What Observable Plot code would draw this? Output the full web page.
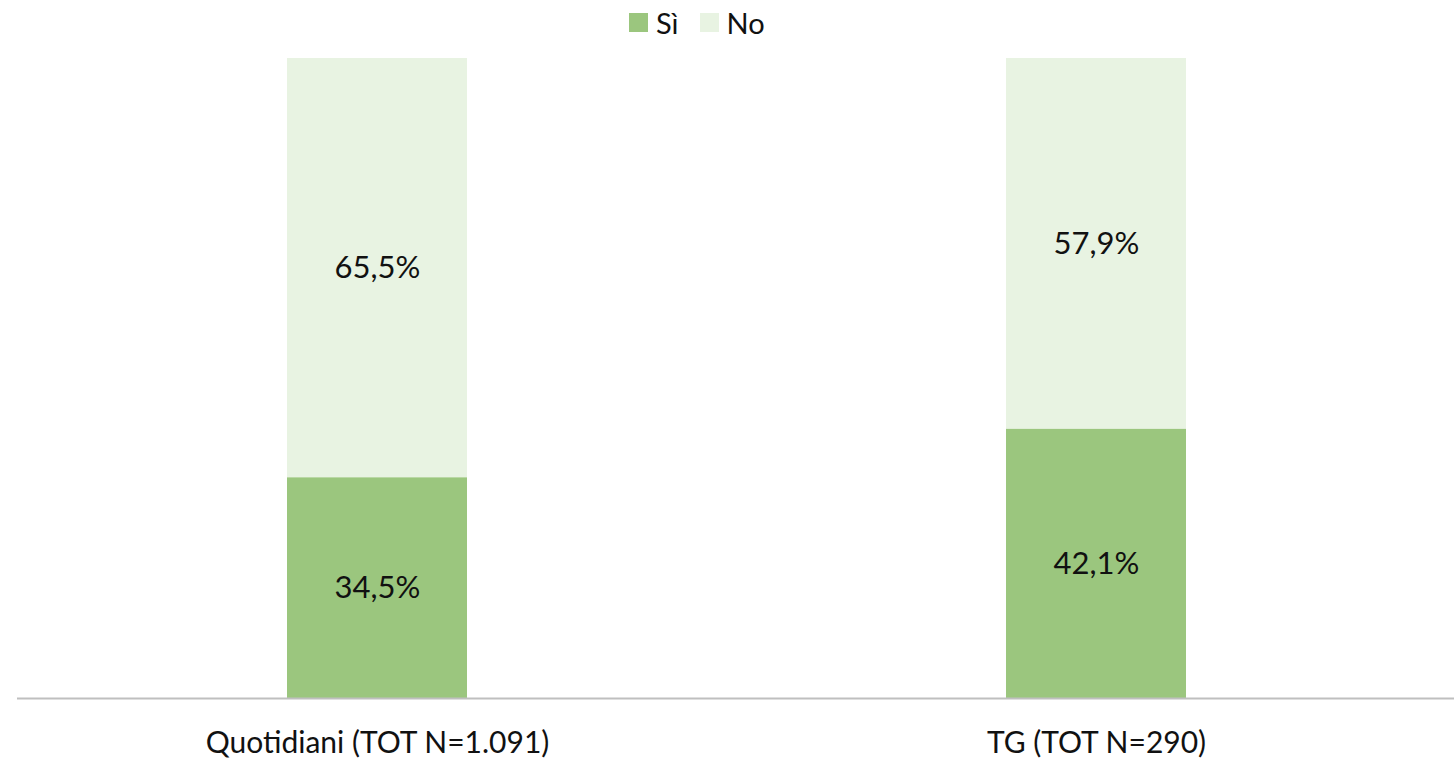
<!DOCTYPE html>
<html>
<head>
<meta charset="utf-8">
<script src="https://cdn.jsdelivr.net/npm/d3@7"></script>
<script src="https://cdn.jsdelivr.net/npm/@observablehq/plot@0.6"></script>
<style>
  html, body { margin: 0; padding: 0; background: #fff; }
  body { width: 1454px; height: 760px; overflow: hidden; font-family: Lato, "Open Sans", sans-serif; }
  #legend { height: 45px; display: flex; align-items: center; padding-left: 629px; box-sizing: border-box; font-size: 29px; color: #111; }
  .item { display: flex; align-items: center; margin-right: 21px; }
  .sw { width: 19px; height: 19px; margin-right: 8px; }
</style>
</head>
<body>
<div id="legend"></div>
<div id="chart"></div>
<script>
const categories = ["Quotidiani (TOT N=1.091)", "TG (TOT N=290)"];
const answers = ["Sì", "No"];
const si = [34.5, 42.1];
const no = [65.5, 57.9];
const colors = ["#9bc67e", "#e8f3e2"];

const data = [];
categories.forEach((c, i) => {
  data.push({cat: c, answer: "Sì", value: si[i]});
  data.push({cat: c, answer: "No", value: no[i]});
});
const fmt = v => v.toFixed(1).replace(".", ",") + "%";

const legend = document.getElementById("legend");
answers.forEach((a, i) => {
  const it = document.createElement("div");
  it.className = "item";
  it.innerHTML = `<div class="sw" style="background:${colors[i]}"></div><span>${a}</span>`;
  legend.appendChild(it);
});

const chart = Plot.plot({
  width: 1454,
  height: 715,
  marginLeft: 17,
  marginRight: -2,
  marginTop: 13,
  marginBottom: 62,
  style: {fontFamily: "Lato, 'Open Sans', sans-serif", fontSize: "30px", color: "#111", background: "#fff", overflow: "visible"},
  x: {domain: categories, paddingInner: 0.75, paddingOuter: 0.375, label: null, tickSize: 0, tickPadding: 33},
  y: {domain: [0, 100], axis: null},
  color: {domain: answers, range: colors},
  marks: [
    Plot.barY(data, Plot.stackY({x: "cat", y: "value", fill: "answer", order: answers})),
    Plot.text(data, Plot.stackY({x: "cat", y: "value", z: "answer", order: answers, text: d => fmt(d.value), fill: "#111", fontSize: 31})),
    Plot.ruleY([0], {stroke: "#bfbfbf", strokeWidth: 2})
  ]
});
document.getElementById("chart").appendChild(chart);
</script>
</body>
</html>
